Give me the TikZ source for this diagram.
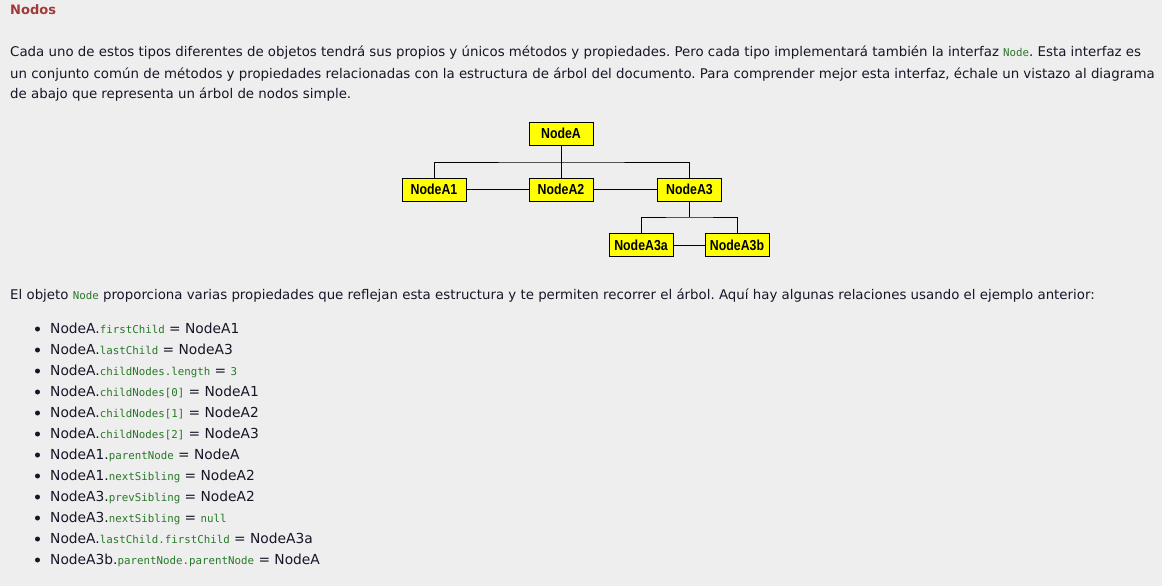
\documentclass[tikz,border=0pt]{standalone}
\usepackage{fontspec}
\setmainfont{DejaVu Sans}
\newfontfamily\codefont{DejaVu Sans Mono}
\newfontfamily\boxfont[FakeStretch=0.85]{Liberation Sans}
\definecolor{bg}{RGB}{238,238,238}
\definecolor{txt}{RGB}{22,22,40}
\definecolor{codegreen}{RGB}{40,120,40}
\definecolor{titlered}{RGB}{160,58,58}
\definecolor{boxyellow}{RGB}{255,255,0}
\newcommand{\cd}[1]{{\codefont\fontsize{10.8}{12}\selectfont\color{codegreen}#1}}
\frenchspacing
\tikzset{
  body/.style={anchor=base west, inner sep=0pt, text=txt, font=\fontsize{13.35}{15}\selectfont},
  item/.style={anchor=base west, inner sep=0pt, text=txt, font=\fontsize{13.8}{16}\selectfont},
  treebox/.style={draw=black, line width=1pt, fill=boxyellow, minimum width=64pt, minimum height=23pt, inner sep=0pt, font=\boxfont\bfseries\fontsize{14.5}{15}\selectfont},
  link/.style={draw=black, line width=1pt},
  dot/.style={circle, fill=txt, inner sep=0pt, minimum size=5pt}
}
\begin{document}
\begin{tikzpicture}[x=1pt,y=-1pt]
\fill[bg] (0,0) rectangle (1162,586);
\useasboundingbox (0,0) rectangle (1162,586);

\node[anchor=base west, inner sep=0pt, text=titlered, font=\bfseries\fontsize{13}{15}\selectfont] (title) at (10,15) {Nodos};

\node[body] (p1) at (10,57) {Cada uno de estos tipos diferentes de objetos tendrá sus propios y únicos métodos y propiedades. Pero cada tipo implementará también la interfaz \cd{Node}. Esta interfaz es};
\node[body] (p2) at (10,78) {un conjunto común de métodos y propiedades relacionadas con la estructura de árbol del documento. Para comprender mejor esta interfaz, échale un vistazo al diagrama};
\node[body] (p3) at (10,98.5) {de abajo que representa un árbol de nodos simple.};

% tree
\node[treebox] (A) at (561,133.5) {NodeA};
\node[treebox] (A1) at (434,189.5) {NodeA1};
\node[treebox] (A2) at (561,189.5) {NodeA2};
\node[treebox] (A3) at (689.5,189.5) {NodeA3};
\node[treebox] (A3a) at (641,245) {NodeA3a};
\node[treebox] (A3b) at (737,245) {NodeA3b};
\coordinate (j1) at (561,162);
\coordinate (j2) at (689.5,217);
\draw[link] (A.south) -- (A2.north);
\draw[link] (A1.north) |- (j1) -| (A3.north);
\draw[link] (A1.east) -- (A2.west);
\draw[link] (A2.east) -- (A3.west);
\draw[link] (A3.south) -- (j2);
\draw[link] (A3a.north) |- (j2) -| (A3b.north);
\draw[link] (A3a.east) -- (A3b.west);

\node[body] (p4) at (10,299) {El objeto \cd{Node} proporciona varias propiedades que reflejan esta estructura y te permiten recorrer el árbol. Aquí hay algunas relaciones usando el ejemplo anterior:};

\foreach \i/\t in {
 0/{NodeA.\cd{firstChild} = NodeA1},
 1/{NodeA.\cd{lastChild} = NodeA3},
 2/{NodeA.\cd{childNodes.length} = \cd{3}},
 3/{NodeA.\cd{childNodes[0]} = NodeA1},
 4/{NodeA.\cd{childNodes[1]} = NodeA2},
 5/{NodeA.\cd{childNodes[2]} = NodeA3},
 6/{NodeA1.\cd{parentNode} = NodeA},
 7/{NodeA1.\cd{nextSibling} = NodeA2},
 8/{NodeA3.\cd{prevSibling} = NodeA2},
 9/{NodeA3.\cd{nextSibling} = \cd{null}},
 10/{NodeA.\cd{lastChild.firstChild} = NodeA3a},
 11/{NodeA3b.\cd{parentNode.parentNode} = NodeA}} {
  \node[dot] (b\i) at (37.5,{333.5+21*\i-4.5}) {};
  \node[item] (l\i) at (50,{333.5+21*\i}) {\t};
}
\end{tikzpicture}
\end{document}
